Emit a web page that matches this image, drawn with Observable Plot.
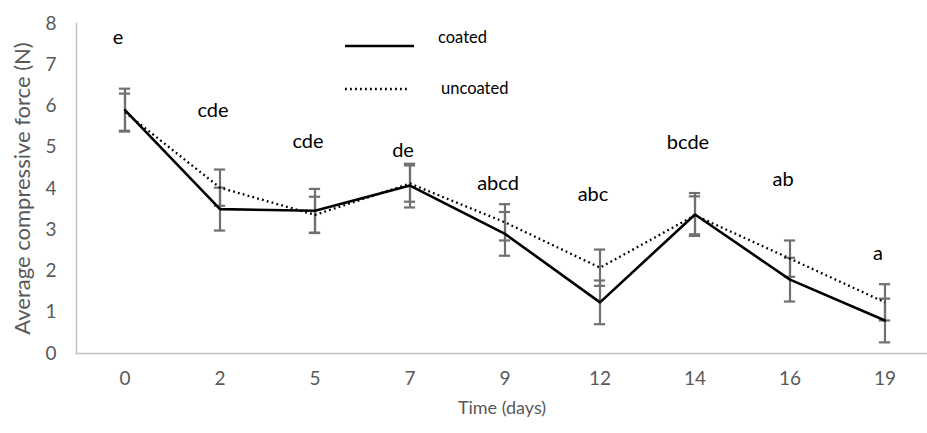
<!DOCTYPE html>
<html>
<head>
<meta charset="utf-8">
<script src="https://cdn.jsdelivr.net/npm/d3@7"></script>
<script src="https://cdn.jsdelivr.net/npm/@observablehq/plot@0.6"></script>
<style>
  html, body { margin: 0; padding: 0; background: #fff; }
  #wrap { position: relative; width: 927px; height: 433px; overflow: hidden; }
  #legend { position: absolute; left: 0; top: 0; }
</style>
</head>
<body>
<div id="wrap"></div>
<script>
const days = ["0", "2", "5", "7", "9", "12", "14", "16", "19"];
const coated = [5.90, 3.50, 3.46, 4.07, 2.90, 1.24, 3.37, 1.79, 0.80];
const uncoated = [5.85, 4.02, 3.36, 4.12, 3.18, 2.08, 3.35, 2.30, 1.24];
const coatedErr = [0.52, 0.52, 0.53, 0.53, 0.53, 0.53, 0.52, 0.53, 0.53];
const uncoatedErr = [0.45, 0.44, 0.44, 0.44, 0.44, 0.44, 0.46, 0.44, 0.44];
const letters = ["e", "cde", "cde", "de", "abcd", "abc", "bcde", "ab", "a"];
const letterY = [7.66, 5.89, 5.14, 4.92, 4.12, 3.85, 5.12, 4.22, 2.42];
const yTicks = [0, 1, 2, 3, 4, 5, 6, 7, 8];
const seriesNames = ["coated", "uncoated"];

const rows = [];
days.forEach((d, i) => {
  rows.push({day: d, series: "coated", v: coated[i], e: coatedErr[i]});
  rows.push({day: d, series: "uncoated", v: uncoated[i], e: uncoatedErr[i]});
});
const lab = days.map((d, i) => ({day: d, t: letters[i], y: letterY[i]}));

const W = 927, H = 433;
const mL = 76, mR = 0, mT = 23, mB = 80;
const band = 95.75;
const x0 = 74;

const errColor = "#707070";
const axisColor = "#c0c0c0";
const font = "Lato, 'Open Sans', sans-serif";

const chart = Plot.plot({
  width: W, height: H,
  marginLeft: mL, marginRight: mR, marginTop: mT, marginBottom: mB,
  style: {fontFamily: font, fontSize: "19px", color: "#595959", background: "#fff", overflow: "visible"},
  x: {type: "band", domain: days, range: [x0, x0 + band * days.length], padding: 0},
  y: {domain: [0, 8], range: [H - mB, mT]},
  marks: [
    Plot.frame({anchor: "left", stroke: axisColor, strokeWidth: 1.5}),
    Plot.frame({anchor: "bottom", stroke: axisColor, strokeWidth: 1.5}),
    Plot.axisY({ticks: yTicks, tickSize: 0, tickPadding: 20, fontSize: 19, label: null}),
    Plot.axisY({ticks: [], tickSize: 0, fontSize: 22,
      label: "Average compressive force (N)", labelAnchor: "center", labelArrow: "none", labelOffset: 62}),
    Plot.axisX({tickSize: 0, tickPadding: 18, fontSize: 19, label: null}),
    Plot.axisX({ticks: [], tickSize: 0, fontSize: 18,
      label: "Time (days)", labelAnchor: "center", labelArrow: "none", labelOffset: 60}),
    Plot.ruleX(rows, {x: "day", y1: d => d.v - d.e, y2: d => d.v + d.e, stroke: errColor, strokeWidth: 2.2}),
    Plot.tickY(rows, {x: "day", y: d => d.v + d.e, stroke: errColor, strokeWidth: 2.2, insetLeft: (band - 12) / 2, insetRight: (band - 12) / 2}),
    Plot.tickY(rows, {x: "day", y: d => d.v - d.e, stroke: errColor, strokeWidth: 2.2, insetLeft: (band - 12) / 2, insetRight: (band - 12) / 2}),
    Plot.line(rows.filter(d => d.series === "uncoated"), {x: "day", y: "v", stroke: "#000", strokeWidth: 2.3, strokeDasharray: "1.8,3.2", strokeLinecap: "butt"}),
    Plot.line(rows.filter(d => d.series === "coated"), {x: "day", y: "v", stroke: "#000", strokeWidth: 2.6}),
    Plot.text(lab, {x: "day", y: "y", text: "t", fill: "#000", fontSize: 20, dx: -7})
  ]
});
document.getElementById("wrap").appendChild(chart);

// legend overlay
const lg = d3.select("#wrap").append("svg").attr("id", "legend")
  .attr("width", W).attr("height", 120)
  .style("font-family", font).style("pointer-events", "none");
const legendItems = [
  {name: seriesNames[0], dash: null, sw: 2.6, lx1: 345, lx2: 414, ly: 46, tx: 438, ty: 37},
  {name: seriesNames[1], dash: "1.8,3.2", sw: 2.3, lx1: 345, lx2: 409, ly: 89, tx: 441, ty: 88}
];
legendItems.forEach(it => {
  const ln = lg.append("line").attr("x1", it.lx1).attr("x2", it.lx2).attr("y1", it.ly).attr("y2", it.ly)
    .attr("stroke", "#000").attr("stroke-width", it.sw);
  if (it.dash) ln.attr("stroke-dasharray", it.dash);
  lg.append("text").attr("x", it.tx).attr("y", it.ty).attr("dy", "0.35em")
    .attr("font-size", 16.5).attr("fill", "#000").text(it.name);
});
</script>
</body>
</html>
